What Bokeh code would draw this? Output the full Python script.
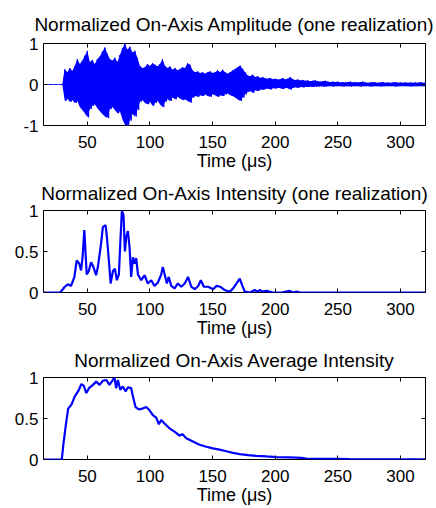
import numpy as np
from bokeh.plotting import figure
from bokeh.layouts import column
from bokeh.models import FixedTicker, LinearAxis, Range1d, CustomJSTickFormatter
from bokeh.embed import file_html
from bokeh.resources import INLINE

# ---------------- data ----------------
x_ticks = [50, 100, 150, 200, 250, 300]

# Panel 1: amplitude envelope (upper / lower extremes), one sample every 2 us from 16 us
amp_t0, amp_dt = 16, 2
amp_upper = [0, 0, 0, 0, 0, 0, 0, 0,
             0.37, 0.30, 0.40, 0.33, 0.45, 0.62, 0.50, 0.58, 0.70, 0.82,
             0.55, 0.60, 0.50, 0.62, 0.68, 0.80, 0.90, 0.75, 0.62, 0.58,
             0.65, 0.55, 0.72, 0.88, 1.00, 0.85, 0.92, 0.78, 0.82, 0.65,
             0.45, 0.40, 0.42, 0.50, 0.45, 0.52, 0.48, 0.44, 0.50, 0.62,
             0.45, 0.40, 0.44, 0.36, 0.40, 0.34, 0.38, 0.42, 0.40, 0.52,
             0.48, 0.35, 0.30, 0.32, 0.28, 0.30, 0.26, 0.30, 0.32, 0.28,
             0.30, 0.34, 0.30, 0.36, 0.30, 0.26, 0.30, 0.34, 0.38, 0.42,
             0.46, 0.38, 0.30, 0.22, 0.20, 0.24, 0.18, 0.20, 0.16, 0.18,
             0.15, 0.14, 0.16, 0.13, 0.14, 0.12, 0.13, 0.16, 0.12, 0.14,
             0.18, 0.13, 0.11, 0.12, 0.10, 0.11, 0.09, 0.10, 0.08, 0.09,
             0.10, 0.08, 0.07, 0.08, 0.09, 0.07, 0.06, 0.07, 0.06, 0.07,
             0.05, 0.06, 0.05, 0.06, 0.07, 0.05, 0.06, 0.05, 0.06, 0.07,
             0.05, 0.04, 0.05, 0.06, 0.05, 0.04, 0.05, 0.06, 0.04, 0.05,
             0.04, 0.05, 0.06, 0.04, 0.05, 0.04, 0.05, 0.04, 0.05, 0.04,
             0.05, 0.04, 0.06, 0.04, 0.05]
amp_lower = [0, 0, 0, 0, 0, 0, 0, 0,
             -0.40, -0.35, -0.42, -0.38, -0.45, -0.40, -0.55, -0.62, -0.70, -0.80,
             -0.60, -0.52, -0.48, -0.58, -0.65, -0.72, -0.78, -0.82, -0.60, -0.55,
             -0.62, -0.70, -0.65, -0.85, -0.98, -1.00, -0.88, -0.72, -0.78, -0.62,
             -0.42, -0.38, -0.45, -0.48, -0.42, -0.52, -0.45, -0.40, -0.48, -0.55,
             -0.42, -0.36, -0.40, -0.32, -0.36, -0.30, -0.34, -0.38, -0.36, -0.40,
             -0.44, -0.32, -0.28, -0.30, -0.26, -0.28, -0.24, -0.28, -0.30, -0.24,
             -0.26, -0.30, -0.26, -0.28, -0.24, -0.22, -0.26, -0.28, -0.32, -0.36,
             -0.40, -0.32, -0.24, -0.18, -0.16, -0.20, -0.14, -0.16, -0.12, -0.13,
             -0.11, -0.10, -0.12, -0.09, -0.10, -0.08, -0.09, -0.11, -0.08, -0.09,
             -0.12, -0.08, -0.07, -0.08, -0.06, -0.07, -0.06, -0.06, -0.05, -0.06,
             -0.05, -0.05, -0.04, -0.05, -0.05, -0.04, -0.04, -0.05, -0.04, -0.04,
             -0.04, -0.05, -0.04, -0.04, -0.05, -0.04, -0.04, -0.04, -0.05, -0.04,
             -0.04, -0.04, -0.05, -0.04, -0.04, -0.04, -0.05, -0.04, -0.04, -0.04,
             -0.04, -0.04, -0.05, -0.04, -0.04, -0.04, -0.04, -0.04, -0.05, -0.04,
             -0.04, -0.04, -0.04, -0.04, -0.04]

# Panel 2: intensity (one realization)
int_t = [15, 28, 30, 32, 34.5, 37, 39.7, 41.5, 43.6, 45, 46.2, 47.6, 49.5, 51.1, 53, 54.9,
         57, 58.4, 61, 62.4, 64.6, 65.6, 67.2, 68.6, 70.4, 72, 73.6, 75.2, 76.3, 77.6,
         78.9, 80, 81, 82.4, 83.7, 85, 86.4, 87.7, 89, 90.4, 93, 95.7, 98.3, 101, 103.6,
         106.3, 109, 110.3, 111.9, 113.5, 115, 117, 119.7, 122.3, 125, 127.8, 130.4,
         133, 135.8, 138.5, 140.6, 143, 146.5, 150.5, 153, 156.3, 159.7, 163.7, 166.4,
         169.6, 171.7, 173.8, 175.7, 180, 183.6, 186, 187.6, 190, 193, 198.3, 205,
         211.6, 214, 217, 220, 320]
int_v = [0, 0, 0.03, 0.07, 0.10, 0.08, 0.19, 0.39, 0.35, 0.27, 0.43, 0.76, 0.22, 0.26, 0.37, 0.31,
         0.21, 0.31, 0.60, 0.80, 0.82, 0.68, 0.39, 0.11, 0.26, 0.29, 0.15, 0.22, 0.60, 1.00,
         0.94, 0.50, 0.67, 0.75, 0.55, 0.19, 0.43, 0.35, 0.42, 0.22, 0.15, 0.21, 0.11, 0.15, 0.08,
         0.12, 0.22, 0.31, 0.21, 0.11, 0.19, 0.08, 0.05, 0.11, 0.07, 0.11, 0.19,
         0.07, 0.04, 0.08, 0.15, 0.07, 0.07, 0.04, 0.08, 0.07, 0.03, 0.01, 0.05,
         0.12, 0.17, 0.08, 0.01, 0.0, 0.03, 0.01, 0.03, 0.01, 0.02, 0.0, 0.0,
         0.02, 0.0, 0.01, 0.0, 0.0]

# Panel 3: average intensity
avg_t = [15, 29.6, 31, 33, 34.7, 37.3, 40, 42.6, 45.3, 47.1, 49.2, 51.3, 54.5, 57.1, 59.8,
         62.4, 65.1, 67.7, 70.4, 71.7, 73, 74.4, 76.3, 78.4, 80.6, 82.4, 85, 86.4, 88.5,
         91.2, 93.8, 97, 99.7, 102.3, 105, 107.1, 109, 111.6, 115.6, 119.6, 123.6, 125.8,
         129, 134.3, 139.6, 145, 150.3, 155.6, 161, 166.3, 171.6, 178.3, 185, 193, 201,
         211.6, 221, 225, 235.6, 249, 259.6, 280, 320]
avg_v = [0, 0, 0.20, 0.44, 0.62, 0.67, 0.77, 0.83, 0.92, 0.90, 0.81, 0.87, 0.91, 0.95, 0.91,
         0.96, 0.97, 0.91, 0.97, 1.00, 0.87, 0.97, 0.85, 0.89, 0.83, 0.88, 0.87, 0.77, 0.64,
         0.61, 0.62, 0.64, 0.60, 0.54, 0.51, 0.43, 0.48, 0.44, 0.38, 0.34, 0.29, 0.31,
         0.26, 0.22, 0.18, 0.155, 0.135, 0.12, 0.10, 0.08, 0.065, 0.053, 0.045, 0.037, 0.03,
         0.025, 0.02, 0.012, 0.008, 0.008, 0.004, 0.002, 0.001]

FONT = "Liberation Sans"
BLUE = "#0000FF"
BLANK = CustomJSTickFormatter(code="return ''")


def panel(title, y_lo, y_hi, y_ticks, y_labels, b_top, b_bottom, t_standoff):
    p = figure(frame_width=382, frame_height=82,
               x_range=Range1d(15, 320), y_range=Range1d(y_lo, y_hi),
               output_backend="svg", toolbar_location=None,
               min_border_left=43, min_border_right=8,
               min_border_top=b_top, min_border_bottom=b_bottom,
               background_fill_color="white", border_fill_color="white")
    p.title.text = title
    p.title.text_font = FONT
    p.title.text_font_size = "19px"
    p.title.text_font_style = "normal"
    p.title.align = "center"
    p.title.text_color = "black"
    p.title.standoff = t_standoff
    p.grid.visible = False
    p.outline_line_color = "black"
    p.outline_line_width = 1
    p.outline_line_alpha = 1

    overrides = {t: l for t, l in zip(y_ticks, y_labels)}
    for ax in p.xaxis:
        ax.ticker = FixedTicker(ticks=x_ticks)
        ax.axis_label = "Time (μs)"
        ax.axis_label_text_font = FONT
        ax.axis_label_text_font_size = "18px"
        ax.axis_label_text_font_style = "normal"
        ax.axis_label_text_color = "black"
        ax.axis_label_standoff = 0
        ax.major_label_standoff = 10
    for ax in p.yaxis:
        ax.ticker = FixedTicker(ticks=y_ticks)
        ax.major_label_overrides = overrides
        ax.major_label_standoff = 5
    top = LinearAxis(ticker=FixedTicker(ticks=x_ticks), formatter=BLANK,
                     major_label_standoff=0)
    right = LinearAxis(ticker=FixedTicker(ticks=y_ticks), formatter=BLANK,
                       major_label_standoff=0)
    p.add_layout(top, "above")
    p.add_layout(right, "right")
    for ax in p.xaxis + p.yaxis:
        ax.axis_line_color = None
        ax.major_tick_in = 4
        ax.major_tick_out = 0
        ax.minor_tick_line_color = None
        ax.major_tick_line_color = "black"
        ax.major_label_text_font = FONT
        ax.major_label_text_font_size = "17px"
        ax.major_label_text_color = "black"
    return p


p1 = panel("Normalized On-Axis Amplitude (one realization)", -1, 1, [-1, 0, 1], ["-1", "0", "1"], 43, 20, 17)
p2 = panel("Normalized On-Axis Intensity (one realization)", 0, 1, [0, 0.5, 1], ["0", "0.5", "1"], 20, 20, 14)
p3 = panel("Normalized On-Axis Average Intensity", 0, 1, [0, 0.5, 1], ["0", "0.5", "1"], 20, 20, 14)

# dense oscillating amplitude: filled envelope plus zigzag between extremes
amp_t = [amp_t0 + i * amp_dt for i in range(len(amp_upper))]
p1.varea(x=amp_t, y1=amp_lower, y2=amp_upper, fill_color=BLUE)
zx, zy = [], []
for t, u, l in zip(amp_t, amp_upper, amp_lower):
    zx += [t, t + amp_dt / 2]
    zy += [u, l]
p1.line(zx, zy, line_color=BLUE, line_width=1)

p2.line(int_t, int_v, line_color=BLUE, line_width=2.2)
p3.line(avg_t, avg_v, line_color=BLUE, line_width=2.2)

layout = column(p1, p2, p3, spacing=0)
open("out.html", "w").write(file_html(layout, INLINE))
